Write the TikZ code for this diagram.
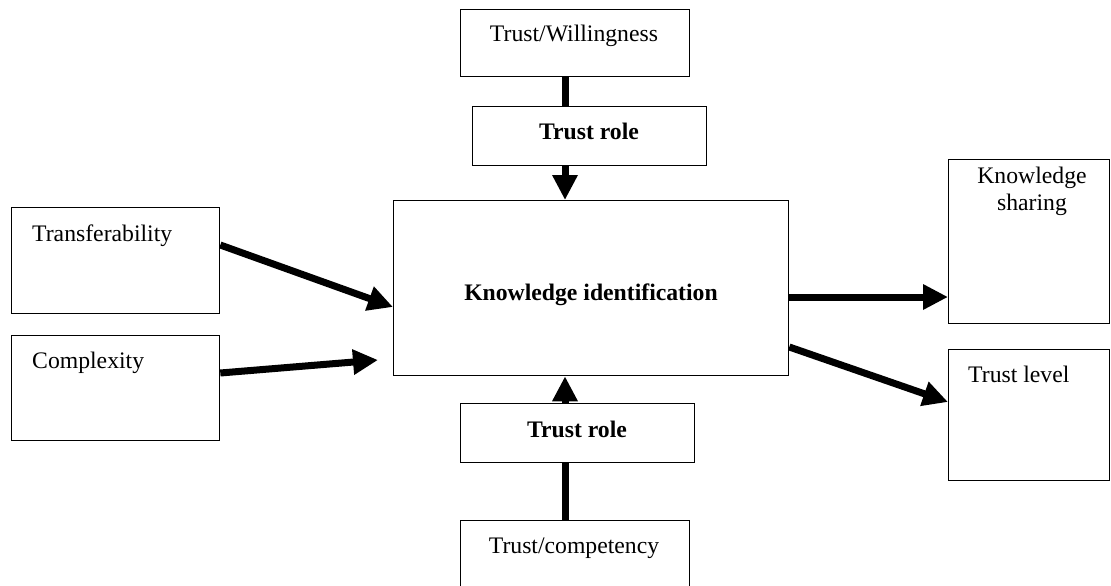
\documentclass[tikz,border=0pt]{standalone}
\usepackage{fontspec}
\setmainfont{Liberation Serif}
\usetikzlibrary{arrows.meta,calc}
\begin{document}
\begin{tikzpicture}[x=1pt,y=-1pt,
  box/.style={draw=black, line width=1.3pt, fill=white, inner sep=0pt, anchor=north west},
  lbl/.style={inner sep=0pt, font=\fontsize{23.7}{27}\selectfont},
  blbl/.style={lbl, font=\fontsize{23.7}{27}\selectfont\bfseries},
  flow/.style={line width=7pt, -{Triangle[width=24pt,length=25pt]}},
  link/.style={line width=7pt}
]
\useasboundingbox (0,0) rectangle (1111,586);

% boxes
\node[box, minimum width=229pt, minimum height=67pt]  (tw)  at (460,9)   {};
\node[box, minimum width=234pt, minimum height=59pt]  (tr1) at (472,106) {};
\node[box, minimum width=395pt, minimum height=175pt] (ki)  at (393,200) {};
\node[box, minimum width=208pt, minimum height=106pt] (tf)  at (11,207)  {};
\node[box, minimum width=208pt, minimum height=105pt] (cx)  at (11,335)  {};
\node[box, minimum width=161pt, minimum height=164pt] (ks)  at (948,159) {};
\node[box, minimum width=161pt, minimum height=131pt] (tl)  at (948,349) {};
\node[box, minimum width=234pt, minimum height=59pt]  (tr2) at (460,403) {};
\node[box, minimum width=229pt, minimum height=72pt]  (tc)  at (460,520) {};

% labels
\node[lbl, anchor=base]      (twl)  at (574,42)  {Trust/Willingness};
\node[blbl, anchor=base]     (tr1l) at (589,139) {Trust role};
\node[blbl, anchor=base]     (kil)  at (591,300) {Knowledge identification};
\node[lbl, anchor=base west] (tfl)  at (32,241)  {Transferability};
\node[lbl, anchor=base west] (cxl)  at (32,368)  {Complexity};
\node[lbl, anchor=north, align=center] (ksl) at (1032,167) {Knowledge\\sharing};
\node[lbl, anchor=base west] (tll)  at (968,382) {Trust level};
\node[blbl, anchor=base]     (tr2l) at (577,437) {Trust role};
\node[lbl, anchor=base]      (tcl)  at (574,553) {Trust/competency};

% vertical connectors
\coordinate (col) at (565,0);
\draw[link] (tw.south -| col) -- (tr1.north -| col);
\draw[flow] (tr1.south -| col) -- (ki.north -| col);
\draw[link] (tc.north -| col) -- (tr2.south -| col);
\draw[flow] (tr2.north -| col) -- (ki.south -| col);

% inputs on the left
\draw[flow] (tf.east |- 0,245) -- (ki.west |- 0,307);
\coordinate (cxend) at (378,360);
\draw[flow] (cx.east |- 0,373) -- (cxend);

% outputs on the right
\draw[flow] (ki.east |- 0,297) -- (ks.west |- 0,297);
\draw[flow] (ki.east |- 0,347) -- (tl.west |- 0,402);
\end{tikzpicture}
\end{document}
